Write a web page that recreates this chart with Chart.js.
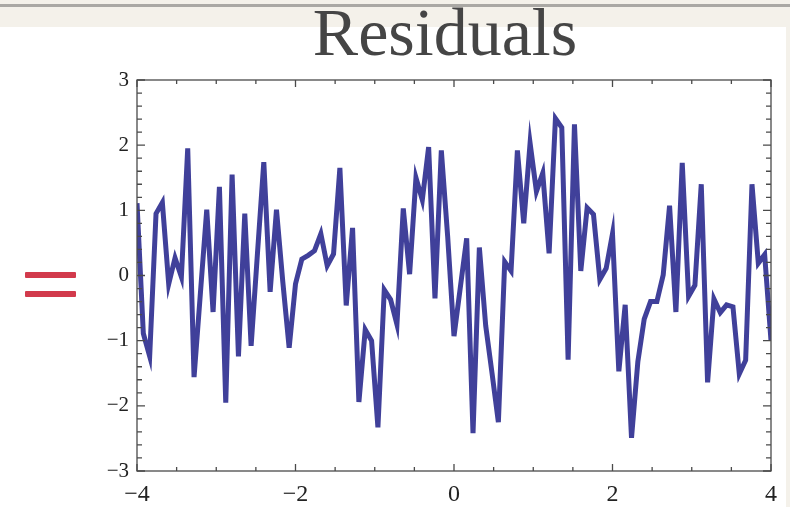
<!DOCTYPE html>
<html>
<head>
<meta charset="utf-8">
<script src="https://cdn.jsdelivr.net/npm/chart.js@4.4.1/dist/chart.umd.min.js"></script>
<style>
  html, body { margin: 0; padding: 0; background: #fff; }
  #page { position: relative; width: 790px; height: 507px; overflow: hidden; background: #fff; }
  #band { position: absolute; left: 0; top: 0; width: 790px; height: 27px; background: #f4f1ea; }
  #band .rule { position: absolute; left: 0; top: 4px; width: 790px; height: 3px; background: #aaa8a4; }
  #side { position: absolute; right: 0; top: 27px; width: 4px; height: 480px; background: #f4f1ea; }
  #title { position: absolute; left: 245px; top: -2px; width: 400px; text-align: center;
           font-family: "Liberation Serif", "DejaVu Serif", serif; font-size: 68px; line-height: 68px; color: #454545; }
  .eq { position: absolute; left: 25px; width: 51px; height: 6px; background: #d23a4c; border-radius: 1px; }
  #chartBox { position: absolute; left: 0; top: 0; width: 790px; height: 507px; }
</style>
</head>
<body>
<div id="page">
  <div id="band"><div class="rule"></div></div>
  <div id="side"></div>
  <div id="title">Residuals</div>
  <div class="eq" style="top:272px"></div>
  <div class="eq" style="top:291px"></div>
  <div id="chartBox"><canvas id="residualChart" width="790" height="507"></canvas></div>
</div>
<script>
// sample positions along x
var xValues = [
  -4, -3.92, -3.84, -3.76, -3.68, -3.6, -3.52, -3.44, -3.36, -3.28,
  -3.2, -3.12, -3.04, -2.96, -2.88, -2.8, -2.72, -2.64, -2.56, -2.48,
  -2.4, -2.32, -2.24, -2.16, -2.08, -2, -1.92, -1.84, -1.76, -1.68,
  -1.6, -1.52, -1.44, -1.36, -1.28, -1.2, -1.12, -1.04, -0.96, -0.88,
  -0.8, -0.72, -0.64, -0.56, -0.48, -0.4, -0.32, -0.24, -0.16, -0.08,
  0, 0.08, 0.16, 0.24, 0.32, 0.4, 0.48, 0.56, 0.64, 0.72,
  0.8, 0.88, 0.96, 1.04, 1.12, 1.2, 1.28, 1.36, 1.44, 1.52,
  1.6, 1.68, 1.76, 1.84, 1.92, 2, 2.08, 2.16, 2.24, 2.32,
  2.4, 2.48, 2.56, 2.64, 2.72, 2.8, 2.88, 2.96, 3.04, 3.12,
  3.2, 3.28, 3.36, 3.44, 3.52, 3.6, 3.68, 3.76, 3.84, 3.92, 4
];
// residual values
var residuals = [
  1.11, -0.89, -1.24, 0.95, 1.12, -0.13, 0.27, -0.02, 1.95, -1.56,
  -0.27, 1.01, -0.56, 1.36, -1.95, 1.55, -1.24, 0.95, -1.08, 0.34,
  1.74, -0.25, 1.01, -0.1, -1.11, -0.13, 0.25, 0.31, 0.38, 0.64,
  0.15, 0.33, 1.65, -0.46, 0.73, -1.94, -0.83, -1.0, -2.33, -0.22,
  -0.37, -0.75, 1.03, 0.02, 1.5, 1.16, 1.97, -0.35, 1.92, 0.6,
  -0.93, -0.18, 0.57, -2.42, 0.43, -0.77, -1.5, -2.25, 0.21, 0.07,
  1.92, 0.8, 2.03, 1.29, 1.57, 0.34, 2.41, 2.27, -1.29, 2.32,
  0.07, 1.04, 0.94, -0.06, 0.11, 0.64, -1.47, -0.45, -2.49, -1.32,
  -0.67, -0.4, -0.4, 0.01, 1.07, -0.56, 1.73, -0.32, -0.15, 1.4,
  -1.64, -0.36, -0.57, -0.45, -0.48, -1.51, -1.3, 1.4, 0.19, 0.32, -1.0
];
var yTickValues = [-3, -2, -1, 0, 1, 2, 3];
var xTickValues = [-4, -2, 0, 2, 4];

var serif = '"Liberation Serif", "DejaVu Serif", serif';

function fmt(v) {
  return v < 0 ? '\u2212' + Math.abs(v) : String(v);
}

// frame with inward ticks, Mathematica style
var frameTicks = {
  id: 'frameTicks',
  afterDatasetsDraw: function (chart) {
    var ctx = chart.ctx, a = chart.chartArea;
    var xs = chart.scales.x, ys = chart.scales.y;
    ctx.save();
    ctx.strokeStyle = '#4a4a4a';
    ctx.lineWidth = 1.3;
    ctx.strokeRect(a.left, a.top, a.right - a.left, a.bottom - a.top);
    ctx.beginPath();
    for (var i = 0; i <= 16; i++) {
      var xv = -4 + i * 0.5;
      var px = xs.getPixelForValue(xv);
      var len = (i % 4 === 0) ? 7 : 4;
      ctx.moveTo(px, a.bottom); ctx.lineTo(px, a.bottom - len);
      ctx.moveTo(px, a.top); ctx.lineTo(px, a.top + len);
    }
    for (var j = 0; j <= 30; j++) {
      var yv = -3 + j * 0.2;
      var py = ys.getPixelForValue(yv);
      var l2 = (j % 5 === 0) ? 8 : 5;
      ctx.moveTo(a.left, py); ctx.lineTo(a.left + l2, py);
      ctx.moveTo(a.right, py); ctx.lineTo(a.right - l2, py);
    }
    ctx.stroke();
    ctx.restore();
  }
};

var points = xValues.map(function (x, i) { return { x: x, y: residuals[i] }; });

var ctx = document.getElementById('residualChart').getContext('2d');
new Chart(ctx, {
  type: 'line',
  data: {
    datasets: [{
      data: points,
      borderColor: '#40409a',
      borderWidth: 5,
      borderJoinStyle: 'miter',
      pointRadius: 0,
      tension: 0,
      fill: false
    }]
  },
  options: {
    responsive: false,
    animation: false,
    layout: { padding: { left: 0, top: 80, right: 19, bottom: 0 } },
    plugins: { legend: { display: false }, tooltip: { enabled: false }, title: { display: false } },
    scales: {
      x: {
        type: 'linear',
        min: -4, max: 4,
        afterFit: function (s) { s.height = 36; },
        afterBuildTicks: function (s) { s.ticks = xTickValues.map(function (v) { return { value: v }; }); },
        grid: { display: false, drawTicks: false },
        border: { display: false },
        ticks: {
          padding: 9,
          color: '#222',
          font: { family: serif, size: 24 },
          maxRotation: 0,
          callback: function (v) { return fmt(v); }
        }
      },
      y: {
        min: -3, max: 3,
        afterFit: function (s) { s.width = 137; },
        afterBuildTicks: function (s) { s.ticks = yTickValues.map(function (v) { return { value: v }; }); },
        grid: { display: false, drawTicks: false },
        border: { display: false },
        ticks: {
          padding: 8,
          color: '#222',
          font: { family: serif, size: 21 },
          callback: function (v) { return fmt(v); }
        }
      }
    }
  },
  plugins: [frameTicks]
});
</script>
</body>
</html>
